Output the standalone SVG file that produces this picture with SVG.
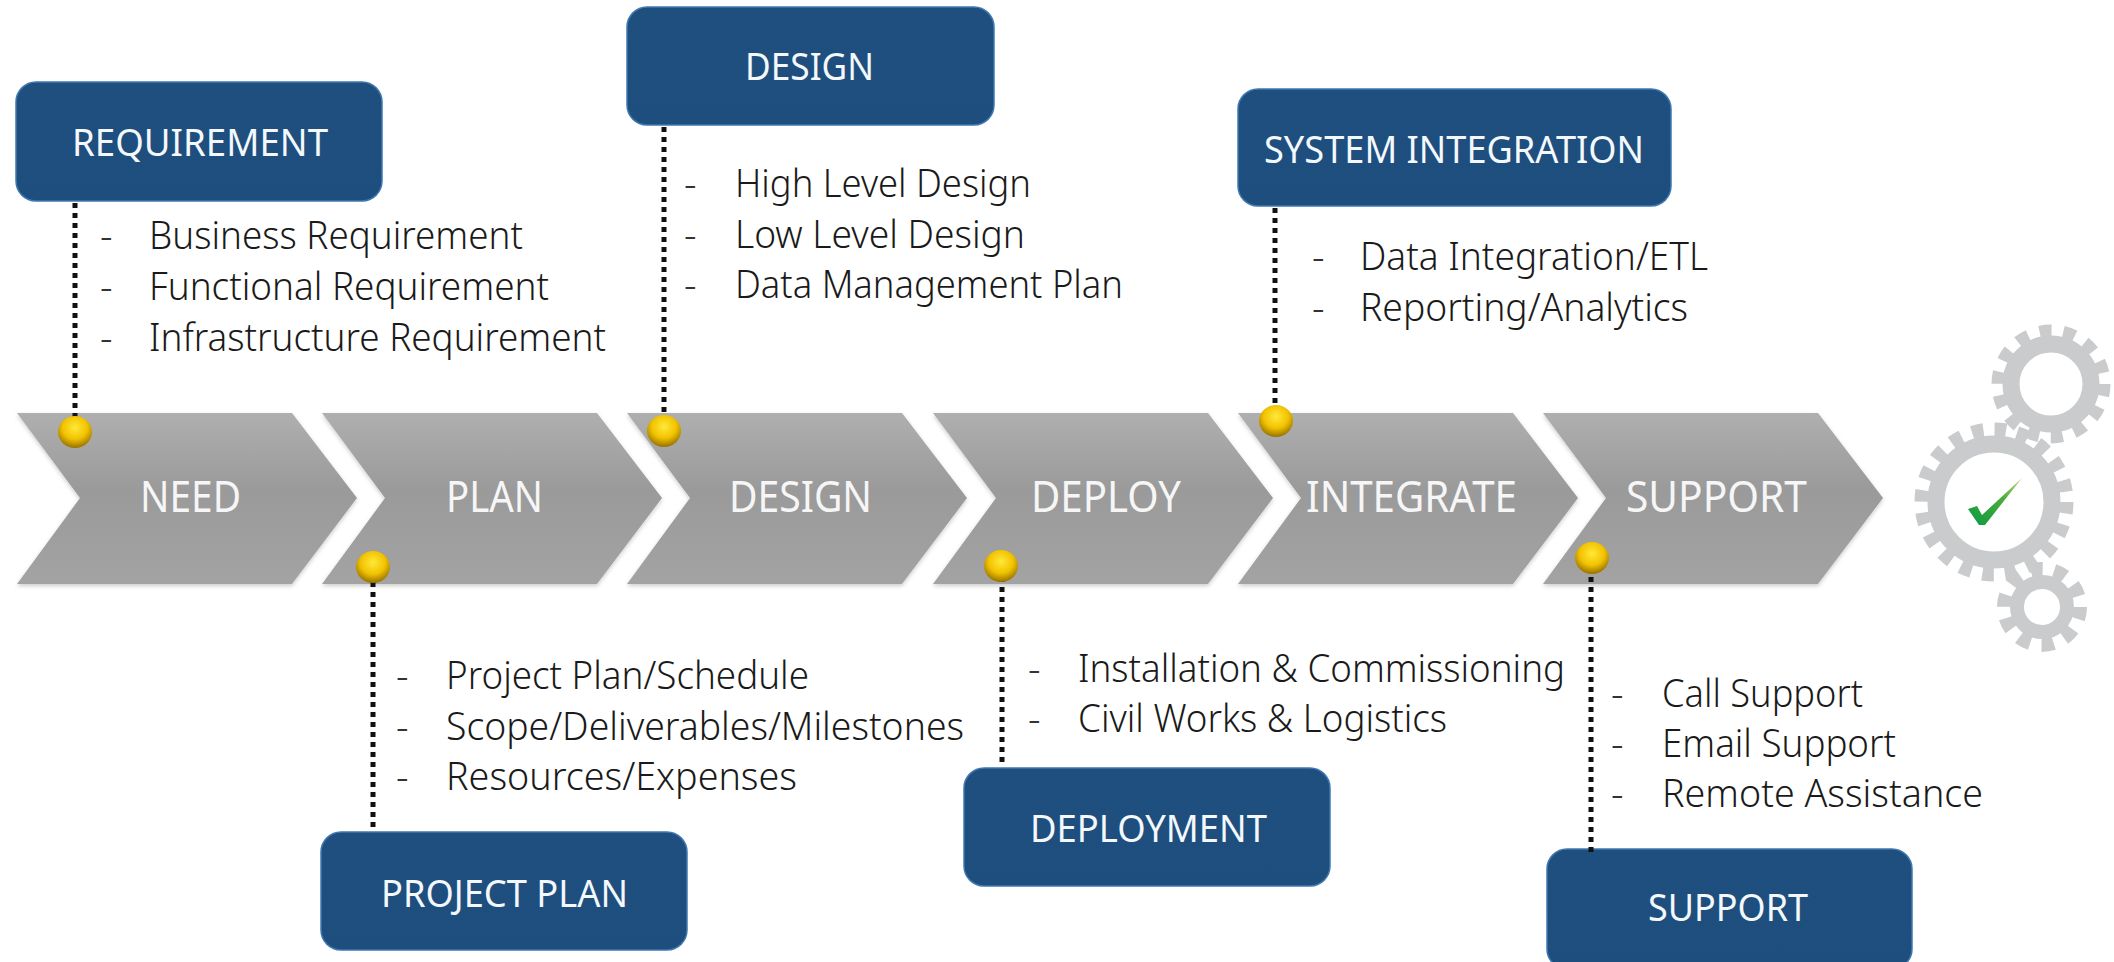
<svg xmlns="http://www.w3.org/2000/svg" width="2114" height="962" viewBox="0 0 2114 962">
<style>
text{font-family:"Noto Sans","Open Sans","Liberation Sans",sans-serif}
.lbl{font-size:38px;fill:#f4f8fb}
.stage{font-size:44px;fill:#f6f6f6}
.item{font-size:39px;font-weight:300;fill:#1a1a1a}
.dash{font-size:39px;font-weight:300;fill:#333}
.box{fill:url(#bx);stroke:#3f78b0;stroke-width:1.5}
.chev{fill:url(#gr);filter:url(#sh)}
.dot{fill:url(#gold)}
.conn{stroke:#111;stroke-width:5;stroke-dasharray:5 5;fill:none}
.gear{fill:none;stroke:#c9cbcc}
</style>
<defs>
<linearGradient id="gr" x1="0" y1="0" x2="0" y2="1"><stop offset="0" stop-color="#afafaf"/><stop offset=".45" stop-color="#9a9a9a"/><stop offset="1" stop-color="#a3a3a3"/></linearGradient>
<linearGradient id="bx" x1="0" y1="0" x2="0" y2="1"><stop offset="0" stop-color="#1e4f7f"/><stop offset="1" stop-color="#1d4e7e"/></linearGradient>
<radialGradient id="gold" cx=".5" cy=".36" r=".66"><stop offset="0" stop-color="#ffe93a"/><stop offset=".55" stop-color="#f2c200"/><stop offset="1" stop-color="#8f6c00"/></radialGradient>
<linearGradient id="ck" x1="0" y1="1" x2="1" y2="0"><stop offset="0" stop-color="#0a9a46"/><stop offset=".6" stop-color="#4bab3a"/><stop offset="1" stop-color="#b9d77a"/></linearGradient>
<filter id="sh" x="-5%" y="-5%" width="110%" height="112%"><feDropShadow dx="0" dy="2" stdDeviation="2" flood-color="#000" flood-opacity=".2"/></filter>
<path id="cv" d="M0 0H275L340 85L275 171H0L63 85Z"/>
</defs>
<rect width="2114" height="962" fill="#fff"/>

<g id="stage-need"><use href="#cv" x="17" y="413" class="chev"/><text class="stage" x="140" y="512" textLength="101" lengthAdjust="spacingAndGlyphs">NEED</text></g>
<g id="stage-plan"><use href="#cv" x="322" y="413" class="chev"/><text class="stage" x="446" y="512" textLength="97" lengthAdjust="spacingAndGlyphs">PLAN</text></g>
<g id="stage-design"><use href="#cv" x="627" y="413" class="chev"/><text class="stage" x="729" y="512" textLength="143" lengthAdjust="spacingAndGlyphs">DESIGN</text></g>
<g id="stage-deploy"><use href="#cv" x="933" y="413" class="chev"/><text class="stage" x="1031" y="512" textLength="150" lengthAdjust="spacingAndGlyphs">DEPLOY</text></g>
<g id="stage-integrate"><use href="#cv" x="1238" y="413" class="chev"/><text class="stage" x="1306" y="512" textLength="211" lengthAdjust="spacingAndGlyphs">INTEGRATE</text></g>
<g id="stage-support"><use href="#cv" x="1543" y="413" class="chev"/><text class="stage" x="1626" y="512" textLength="181" lengthAdjust="spacingAndGlyphs">SUPPORT</text></g>

<g id="box-requirement"><rect class="box" x="16" y="82" width="366" height="119" rx="20"/><text class="lbl" x="72" y="156" textLength="256" lengthAdjust="spacingAndGlyphs">REQUIREMENT</text></g>
<g id="box-design"><rect class="box" x="627" y="7" width="367" height="118" rx="20"/><text class="lbl" x="745" y="80" textLength="129" lengthAdjust="spacingAndGlyphs">DESIGN</text></g>
<g id="box-system-integration"><rect class="box" x="1238" y="89" width="433" height="117" rx="20"/><text class="lbl" x="1264" y="163" textLength="380" lengthAdjust="spacingAndGlyphs">SYSTEM INTEGRATION</text></g>
<g id="box-project-plan"><rect class="box" x="321" y="832" width="366" height="118" rx="20"/><text class="lbl" x="381" y="907" textLength="247" lengthAdjust="spacingAndGlyphs">PROJECT PLAN</text></g>
<g id="box-deployment"><rect class="box" x="964" y="768" width="366" height="118" rx="20"/><text class="lbl" x="1030" y="842" textLength="237" lengthAdjust="spacingAndGlyphs">DEPLOYMENT</text></g>
<g id="box-support"><rect class="box" x="1547" y="849" width="365" height="120" rx="20"/><text class="lbl" x="1648" y="921" textLength="160" lengthAdjust="spacingAndGlyphs">SUPPORT</text></g>

<g id="connectors">
<path class="conn" d="M75 203V425"/>
<path class="conn" d="M664 127V420"/>
<path class="conn" d="M1275 208V410"/>
<path class="conn" d="M373 582V832"/>
<path class="conn" d="M1002 577V767"/>
<path class="conn" d="M1591 577V854"/>
</g>

<g id="dots">
<ellipse class="dot" cx="75" cy="432" rx="17" ry="16"/>
<ellipse class="dot" cx="373" cy="567" rx="17" ry="16"/>
<ellipse class="dot" cx="664" cy="431" rx="17" ry="16"/>
<ellipse class="dot" cx="1001" cy="566" rx="17" ry="16"/>
<ellipse class="dot" cx="1276" cy="421" rx="17" ry="16"/>
<ellipse class="dot" cx="1592" cy="558" rx="17" ry="16"/>
</g>

<g id="list-requirement">
<text class="dash" x="100" y="249">-</text><text class="item" x="149" y="249" textLength="374" lengthAdjust="spacingAndGlyphs">Business Requirement</text>
<text class="dash" x="100" y="300">-</text><text class="item" x="149" y="300" textLength="400" lengthAdjust="spacingAndGlyphs">Functional Requirement</text>
<text class="dash" x="100" y="351">-</text><text class="item" x="149" y="351" textLength="457" lengthAdjust="spacingAndGlyphs">Infrastructure Requirement</text>
</g>
<g id="list-design">
<text class="dash" x="684" y="197">-</text><text class="item" x="735" y="197" textLength="296" lengthAdjust="spacingAndGlyphs">High Level Design</text>
<text class="dash" x="684" y="248">-</text><text class="item" x="735" y="248" textLength="290" lengthAdjust="spacingAndGlyphs">Low Level Design</text>
<text class="dash" x="684" y="298">-</text><text class="item" x="735" y="298" textLength="388" lengthAdjust="spacingAndGlyphs">Data Management Plan</text>
</g>
<g id="list-integration">
<text class="dash" x="1312" y="270">-</text><text class="item" x="1360" y="270" textLength="348" lengthAdjust="spacingAndGlyphs">Data Integration/ETL</text>
<text class="dash" x="1312" y="321">-</text><text class="item" x="1360" y="321" textLength="328" lengthAdjust="spacingAndGlyphs">Reporting/Analytics</text>
</g>
<g id="list-plan">
<text class="dash" x="396" y="689">-</text><text class="item" x="446" y="689" textLength="363" lengthAdjust="spacingAndGlyphs">Project Plan/Schedule</text>
<text class="dash" x="396" y="740">-</text><text class="item" x="446" y="740" textLength="518" lengthAdjust="spacingAndGlyphs">Scope/Deliverables/Milestones</text>
<text class="dash" x="396" y="790">-</text><text class="item" x="446" y="790" textLength="351" lengthAdjust="spacingAndGlyphs">Resources/Expenses</text>
</g>
<g id="list-deploy">
<text class="dash" x="1028" y="682">-</text><text class="item" x="1078" y="682" textLength="487" lengthAdjust="spacingAndGlyphs">Installation &amp; Commissioning</text>
<text class="dash" x="1028" y="732">-</text><text class="item" x="1078" y="732" textLength="369" lengthAdjust="spacingAndGlyphs">Civil Works &amp; Logistics</text>
</g>
<g id="list-support">
<text class="dash" x="1611" y="707">-</text><text class="item" x="1662" y="707" textLength="201" lengthAdjust="spacingAndGlyphs">Call Support</text>
<text class="dash" x="1611" y="757">-</text><text class="item" x="1662" y="757" textLength="234" lengthAdjust="spacingAndGlyphs">Email Support</text>
<text class="dash" x="1611" y="807">-</text><text class="item" x="1662" y="807" textLength="321" lengthAdjust="spacingAndGlyphs">Remote Assistance</text>
</g>

<g id="gears">
<circle class="gear" cx="2051" cy="384" r="40" stroke-width="17"/>
<circle class="gear" cx="2051" cy="384" r="53" stroke-width="13" stroke-dasharray="12 11.79"/>
<circle class="gear" cx="2042" cy="607" r="25" stroke-width="14"/>
<circle class="gear" cx="2042" cy="607" r="37" stroke-width="16" stroke-dasharray="12 11.25"/>
<circle class="gear" cx="1994" cy="502" r="58" stroke-width="17"/>
<circle class="gear" cx="1994" cy="502" r="72" stroke-width="15" stroke-dasharray="11.5 11.12"/>
<path d="M1968 509L1977 506L1982 515L2022 478L1985 525H1979Z" fill="url(#ck)"/>
</g>
</svg>
